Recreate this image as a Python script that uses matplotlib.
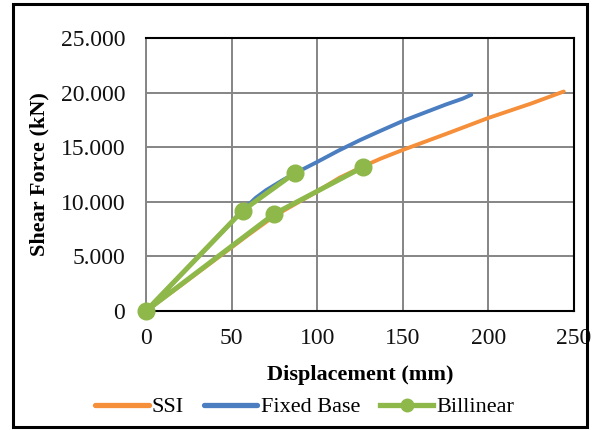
import matplotlib
matplotlib.use("Agg")
import matplotlib.pyplot as plt
from matplotlib.lines import Line2D
from matplotlib.patches import Rectangle
from matplotlib.ticker import FuncFormatter

# Pushover curves (displacement in mm, shear force)
ssi_disp = [0, 20, 40, 60, 75, 90, 100, 113, 127, 137, 150, 175, 200, 225, 244]
ssi_force = [0, 2300, 4650, 7000, 8700, 10050, 10950, 12200, 13250, 13950,
             14750, 16200, 17680, 19000, 20100]

fixed_disp = [0, 20, 40, 58, 64, 70, 80, 90, 100, 112, 125, 137, 150, 165,
              175, 185, 190]
fixed_force = [0, 3250, 6500, 9450, 10350, 11050, 12000, 12850, 13650, 14650,
               15650, 16500, 17400, 18300, 18900, 19450, 19800]

# Bilinear idealisation (both curves drawn as one series through the origin)
bil_disp = [127, 75, 0, 56.5, 87]
bil_force = [13200, 8900, 0, 9200, 12650]

x_ticks = [0, 50, 100, 150, 200, 250]
y_ticks = [0, 5000, 10000, 15000, 20000, 25000]

ORANGE = "#F58F3A"
BLUE = "#4A7EC0"
GREEN = "#8EB84A"
GRID = "#858585"

plt.rcParams["font.family"] = ["Liberation Serif", "DejaVu Serif"]

fig = plt.figure(figsize=(6.06, 4.30), dpi=100)
ax = fig.add_axes([146 / 606, 1 - 311 / 430, 428 / 606, 273 / 430])

ax.plot(ssi_disp, ssi_force, color=ORANGE, lw=2.8, solid_capstyle="round",
        solid_joinstyle="round", zorder=3)
ax.plot(fixed_disp, fixed_force, color=BLUE, lw=2.8, solid_capstyle="round",
        solid_joinstyle="round", zorder=3)
ax.plot(bil_disp, bil_force, color=GREEN, lw=3.6, marker="o", markersize=12,
        solid_joinstyle="round", zorder=4, clip_on=False)

ax.set_xlim(0, 250)
ax.set_ylim(0, 25000)
ax.set_xticks(x_ticks)
ax.set_yticks(y_ticks)
ax.yaxis.set_major_formatter(
    FuncFormatter(lambda v, p: f"{int(v):,}".replace(",", ".")))
ax.tick_params(length=0, labelsize=17, labelcolor="#111111")
ax.tick_params(axis="y", pad=15)
ax.tick_params(axis="x", pad=12)
ax.grid(True, color=GRID, lw=1.4)
ax.set_axisbelow(True)
for side in ["top", "right", "bottom"]:
    ax.spines[side].set_color("black")
    ax.spines[side].set_linewidth(1.5)
ax.spines["left"].set_color(GRID)
ax.spines["left"].set_linewidth(1.4)

ax.set_xlabel("Displacement (mm)", fontsize=16, fontweight="bold", labelpad=12)
ax.set_ylabel("Shear Force (kN)", fontsize=16, fontweight="bold", labelpad=8)

handles = [
    Line2D([], [], color=ORANGE, lw=3.8, solid_capstyle="round"),
    Line2D([], [], color=BLUE, lw=3.8, solid_capstyle="round"),
    Line2D([], [], color=GREEN, lw=3.8, marker="o", markersize=9),
]
fig.legend(handles, ["SSI", "Fixed Base", "Billinear"], loc="center",
           bbox_to_anchor=(305 / 606, 1 - 407 / 430), ncol=3, frameon=False,
           fontsize=16, handlelength=2.4, handletextpad=0.15, columnspacing=0.9)

# outer frame around the chart
fig.patches.append(Rectangle((13 / 606, 3 / 430), 574 / 606, 423 / 430,
                             transform=fig.transFigure, fill=False,
                             edgecolor="black", lw=2.2))

fig.savefig("out.png", dpi=100)
